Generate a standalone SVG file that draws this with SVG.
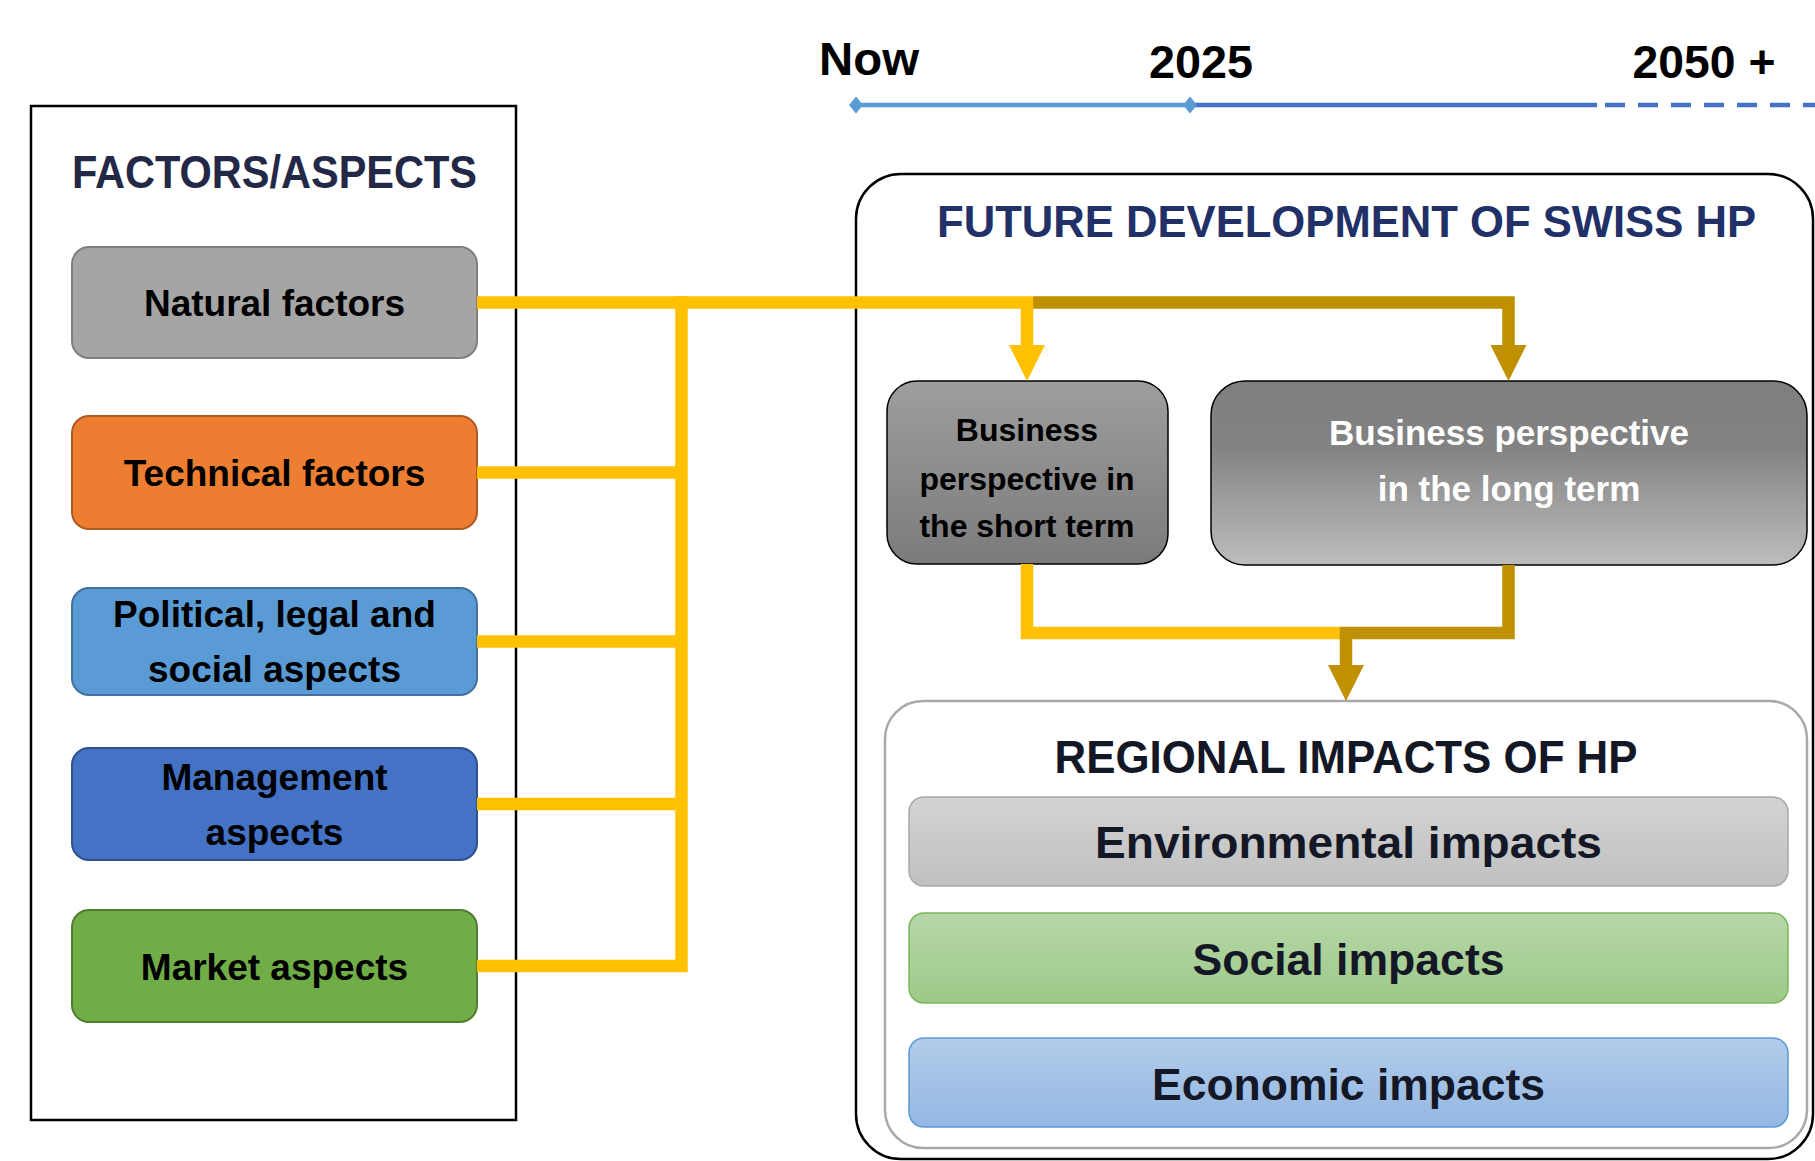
<svg xmlns="http://www.w3.org/2000/svg" width="1815" height="1161" viewBox="0 0 1815 1161">
<style>
  text { font-family: "Liberation Sans", Arial, sans-serif; font-weight: bold; text-anchor: middle; }
  .frame { fill: #ffffff; stroke: #000000; stroke-width: 2.5; }
  .fac { stroke-width: 2; }
  .lbl { font-size: 37px; fill: #000000; }
  .y { fill: none; stroke: #FFC000; stroke-width: 12.5; stroke-linejoin: miter; stroke-linecap: butt; }
  .g { fill: none; stroke: #BF9000; stroke-width: 12.5; stroke-linejoin: miter; stroke-linecap: butt; }
  .yh { fill: #FFC000; }
  .gh { fill: #BF9000; }
  .imp { font-size: 45px; fill: #141826; }
  .year { font-size: 46px; fill: #000000; }
</style>
<defs>
  <linearGradient id="gShort" x1="0" y1="0" x2="0" y2="1">
    <stop offset="0" stop-color="#9E9E9E"/>
    <stop offset="1" stop-color="#7B7B7B"/>
  </linearGradient>
  <linearGradient id="gLong" x1="0" y1="0" x2="0" y2="1">
    <stop offset="0" stop-color="#7F7F7F"/>
    <stop offset="0.35" stop-color="#828282"/>
    <stop offset="1" stop-color="#BDBDBD"/>
  </linearGradient>
  <linearGradient id="gEnv" x1="0" y1="0" x2="0" y2="1">
    <stop offset="0" stop-color="#D3D3D3"/>
    <stop offset="1" stop-color="#C0C0C0"/>
  </linearGradient>
  <linearGradient id="gSoc" x1="0" y1="0" x2="0" y2="1">
    <stop offset="0" stop-color="#B6D7A8"/>
    <stop offset="1" stop-color="#9DC988"/>
  </linearGradient>
  <linearGradient id="gEco" x1="0" y1="0" x2="0" y2="1">
    <stop offset="0" stop-color="#B2CCEA"/>
    <stop offset="1" stop-color="#94B7E2"/>
  </linearGradient>
</defs>
<rect width="1815" height="1161" fill="#ffffff"/>

<g id="timeline">
  <line x1="856" y1="105" x2="1190" y2="105" stroke="#5B9BD5" stroke-width="4.5"/>
  <line x1="1190" y1="105" x2="1597" y2="105" stroke="#4472C4" stroke-width="4.5"/>
  <line x1="1605" y1="105" x2="1815" y2="105" stroke="#4472C4" stroke-width="4.5" stroke-dasharray="20 13"/>
  <polygon points="856,96.5 863,105 856,113.5 849,105" fill="#5B9BD5"/>
  <polygon points="1190,96.5 1197,105 1190,113.5 1183,105" fill="#5B9BD5"/>
  <text class="year" x="869" y="75" textLength="100" lengthAdjust="spacingAndGlyphs">Now</text>
  <text class="year" x="1201" y="78" textLength="104" lengthAdjust="spacingAndGlyphs">2025</text>
  <text class="year" x="1704" y="78" textLength="143" lengthAdjust="spacingAndGlyphs">2050 +</text>
</g>

<g id="factors-panel">
  <rect class="frame" x="31" y="106" width="485" height="1014"/>
  <text x="274.5" y="188" font-size="46" fill="#232847" textLength="405" lengthAdjust="spacingAndGlyphs">FACTORS/ASPECTS</text>
</g>

<g id="natural">
  <rect class="fac" x="72" y="247" width="405" height="111" rx="17" fill="#A5A5A5" stroke="#7F7F7F"/>
  <text class="lbl" x="274.5" y="316">Natural factors</text>
</g>
<g id="technical">
  <rect class="fac" x="72" y="416" width="405" height="113" rx="17" fill="#ED7D31" stroke="#AE5A21"/>
  <text class="lbl" x="274.5" y="486">Technical factors</text>
</g>
<g id="political">
  <rect class="fac" x="72" y="588" width="405" height="107" rx="17" fill="#5B9BD5" stroke="#41719C"/>
  <text class="lbl" x="274.5" y="627">Political, legal and</text>
  <text class="lbl" x="274.5" y="682">social aspects</text>
</g>
<g id="management">
  <rect class="fac" x="72" y="748" width="405" height="112" rx="17" fill="#4472C4" stroke="#2F528F"/>
  <text class="lbl" x="274.5" y="790">Management</text>
  <text class="lbl" x="274.5" y="845">aspects</text>
</g>
<g id="market">
  <rect class="fac" x="72" y="910" width="405" height="112" rx="17" fill="#70AD47" stroke="#507E32"/>
  <text class="lbl" x="274.5" y="980">Market aspects</text>
</g>

<g id="future-panel">
  <rect class="frame" x="856" y="174" width="957" height="985" rx="45"/>
  <text x="1346.5" y="237" font-size="44" fill="#213067" textLength="819" lengthAdjust="spacingAndGlyphs">FUTURE DEVELOPMENT OF SWISS HP</text>
</g>

<g id="short-term">
  <rect x="887" y="381" width="281" height="183" rx="30" fill="url(#gShort)" stroke="#000000" stroke-width="1.5"/>
  <text x="1027" y="441" font-size="32" fill="#000000">Business</text>
  <text x="1027" y="490" font-size="32" fill="#000000">perspective in</text>
  <text x="1027" y="537" font-size="32" fill="#000000">the short term</text>
</g>

<g id="long-term">
  <rect x="1211" y="381" width="596" height="184" rx="34" fill="url(#gLong)" stroke="#000000" stroke-width="1.5"/>
  <text x="1509" y="445" font-size="35" fill="#ffffff">Business perspective</text>
  <text x="1509" y="501" font-size="35" fill="#ffffff">in the long term</text>
</g>

<g id="regional">
  <rect x="885" y="701" width="922" height="447" rx="38" fill="#ffffff" stroke="#A9A9A9" stroke-width="2.5"/>
  <text x="1346" y="773" font-size="47" fill="#141826" textLength="583" lengthAdjust="spacingAndGlyphs">REGIONAL IMPACTS OF HP</text>
</g>
<g id="environmental">
  <rect x="909" y="797" width="879" height="89" rx="15" fill="url(#gEnv)" stroke="#A8A8A8" stroke-width="1.5"/>
  <text class="imp" x="1348.5" y="858" font-size="47" textLength="507" lengthAdjust="spacingAndGlyphs">Environmental impacts</text>
</g>
<g id="social">
  <rect x="909" y="913" width="879" height="90" rx="15" fill="url(#gSoc)" stroke="#7AB65A" stroke-width="1.5"/>
  <text class="imp" x="1348.5" y="975" font-size="47" textLength="312" lengthAdjust="spacingAndGlyphs">Social impacts</text>
</g>
<g id="economic">
  <rect x="909" y="1038" width="879" height="89" rx="15" fill="url(#gEco)" stroke="#5B9BD5" stroke-width="1.5"/>
  <text class="imp" x="1348.5" y="1100" font-size="47" textLength="393" lengthAdjust="spacingAndGlyphs">Economic impacts</text>
</g>

<g id="connectors">
  <path class="y" d="M477,472.5 H681.5"/>
  <path class="y" d="M477,641.5 H681.5"/>
  <path class="y" d="M477,804 H681.5"/>
  <path class="y" d="M477,966 H681.5 V296.25"/>
  <path class="g" d="M1033,302.5 H1508.5 V346"/>
  <path class="y" d="M477,302.5 H1027 V346"/>
  <polygon class="yh" points="1009,345 1045,345 1027,381"/>
  <polygon class="gh" points="1490.5,345 1526.5,345 1508.5,381"/>
  <path class="y" d="M1027,564 V633 H1340"/>
  <path class="g" d="M1508.5,565 V633 H1346 V666"/>
  <polygon class="gh" points="1328,665 1364,665 1346,701"/>
</g>
</svg>
